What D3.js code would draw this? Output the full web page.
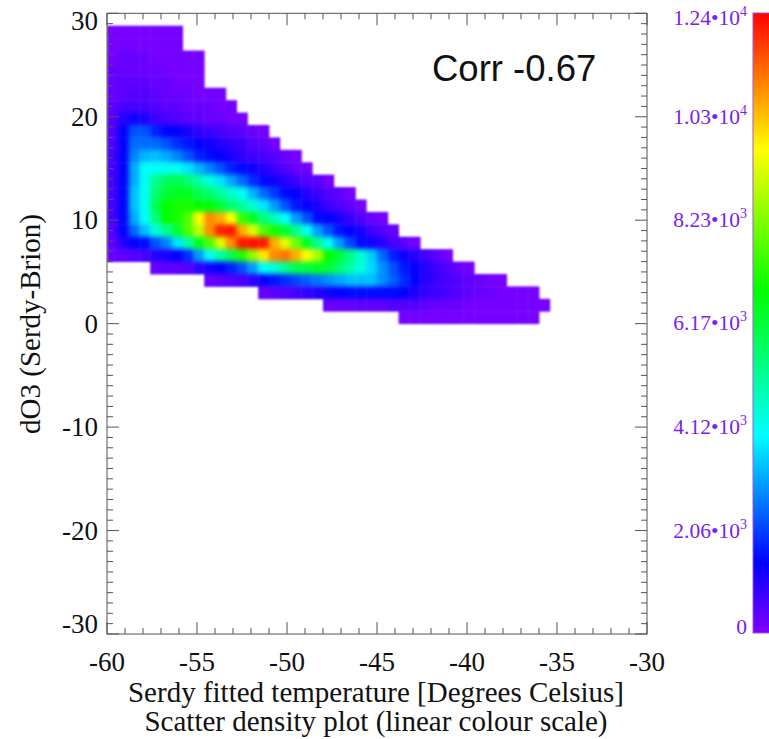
<!DOCTYPE html>
<html><head><meta charset="utf-8">
<style>html,body{margin:0;padding:0;background:#fff;overflow:hidden}svg{display:block}</style>
<script src="https://cdn.jsdelivr.net/npm/d3@7"></script></head><body>
<svg id="c" width="769" height="739"></svg>
<script>
// density as percent of the peak, one array per row from the top bin down
const densityRows = [
[1,1,1,1,1,1,1],
[1,1,1,1,1,1,1],
[1,2,2,2,1,1,1,1,1],
[2,2,2,2,2,1,1,1,1],
[2,3,3,3,2,2,1,1,1],
[2,3,4,4,3,2,2,2,1,1,1],
[3,5,5,5,4,3,3,2,2,2,1,1],
[4,8,10,9,6,5,4,3,3,2,2,1,1],
[4,11,18,18,14,11,11,9,7,6,5,4,3,2,1],
[4,11,20,20,20,18,15,13,11,10,8,7,6,4,3,1],
[5,11,22,26,27,25,22,18,14,12,11,9,7,6,5,4,2,1],
[5,11,25,32,33,33,33,30,26,22,18,14,12,10,8,6,4,2,1],
[5,11,25,33,42,47,48,45,40,35,30,25,20,15,12,10,8,6,4,3,1],
[5,11,27,33,45,50,52,52,48,45,41,37,33,26,20,16,12,11,8,6,4,3,1],
[5,11,27,33,48,55,57,57,55,54,50,45,40,36,30,24,18,13,11,9,6,4,3,1],
[5,11,25,32,44,55,57,62,78,88,85,78,60,52,44,38,32,24,18,12,11,9,6,4,2,1],
[4,11,20,27,35,42,50,62,72,88,97,98,85,75,62,57,50,42,33,24,18,13,11,9,6,4,2],
[3,8,11,12,18,22,30,40,52,62,75,88,98,99,98,85,75,65,52,42,33,24,17,12,10,8,5,3,1],
[2,3,4,5,8,9,11,15,24,33,40,48,58,68,80,88,90,85,78,70,55,50,43,36,28,20,14,10,8,5,3,1],
[2,3,3,4,7,10,11,14,18,24,32,36,42,48,50,52,50,45,40,35,29,23,18,13,11,8,6,4,2,1],
[2,3,4,5,7,11,13,15,17,19,21,23,25,27,27,27,23,19,15,11,8,6,5,4,3,2,1,1],
[2,3,4,5,7,8,10,11,12,12,12,12,12,11,9,7,6,5,4,3,2,2,1,1,1,1],
[2,2,2,3,3,3,4,4,4,3,2,2,2,1,1,1,1,1,1,1,1],
[1,1,1,1,1,1,1,1,1,1,1,1,1]
];
const rowFirstBin = [0,0,0,0,0,0,0,0,0,0,0,0,0,0,0,0,0,0,0,4,9,14,20,27];
const firstRowTop = 28.8;
const binX = 0.6, binY = 1.2;
const xDomain = [-60,-30], yDomain = [-30,30];
const xMajor = [-60,-55,-50,-45,-40,-35,-30];
const yMajor = [-30,-20,-10,0,10,20,30];
const colourStops = [0,11.3,32,55,78,100];
const colourValues = ["#8000ff","#0000ff","#00ffff","#00ff00","#ffff00","#ff0000"];
const barLabels = [["1.24","4"],["1.03","4"],["8.23","3"],["6.17","3"],["4.12","3"],["2.06","3"],["0",""]];
const barLabelValues = [100,83.33,66.67,50,33.33,16.67,0];
const titleX = ["Serdy fitted temperature [Degrees Celsius]","Scatter density plot (linear colour scale)"];
const titleY = "dO3 (Serdy-Brion)";
const note = "Corr -0.67";

const L=107,R=647,T=13.3,B=634;
const x=d3.scaleLinear().domain(xDomain).range([L,R]);
const y=d3.scaleLinear().domain(yDomain).range([B,T]);
const colour=d3.scaleLinear().domain(colourStops).range(colourValues).interpolate(d3.interpolateRgb);
const barY=d3.scaleLinear().domain([0,100]).range([633,13]);
const svg=d3.select("#c");
const serif="'Liberation Serif',serif";
const defs=svg.append("defs");
const f=defs.append("filter").attr("id","soft").attr("filterUnits","userSpaceOnUse")
  .attr("x",L-30).attr("y",T-30).attr("width",R-L+60).attr("height",B-T+60)
  .attr("color-interpolation-filters","sRGB");
f.append("feGaussianBlur").attr("in","SourceGraphic").attr("stdDeviation",2.6).attr("result","wide");
const ct=f.append("feComponentTransfer").attr("in","wide").attr("result","solid");
ct.append("feFuncA").attr("type","linear").attr("slope",40).attr("intercept",0);
f.append("feGaussianBlur").attr("in","SourceAlpha").attr("stdDeviation",0.9).attr("result","mask");
f.append("feComposite").attr("in","solid").attr("in2","mask").attr("operator","in");
defs.append("clipPath").attr("id","plot").append("rect").attr("x",L).attr("y",T).attr("width",R-L).attr("height",B-T);
const grad=defs.append("linearGradient").attr("id","bar").attr("x1",0).attr("x2",0).attr("y1",1).attr("y2",0);
colourStops.forEach((s,i)=>grad.append("stop").attr("offset",s+"%").attr("stop-color",colourValues[i]));

const cells=densityRows.flatMap((r,k)=>r.map((v,i)=>({v,
  x0:xDomain[0]+(rowFirstBin[k]+i)*binX,
  y1:firstRowTop-k*binY})));
svg.append("g").attr("clip-path","url(#plot)").append("g").attr("filter","url(#soft)")
  .selectAll("rect").data(cells).join("rect")
  .attr("x",d=>x(d.x0)).attr("width",d=>x(d.x0+binX)-x(d.x0)+0.4)
  .attr("y",d=>y(d.y1)).attr("height",d=>y(d.y1-binY)-y(d.y1)+0.4)
  .attr("fill",d=>colour(d.v));

const frame="#555";
const g=svg.append("g").attr("stroke",frame).attr("stroke-width",1).attr("fill","none");
g.append("rect").attr("x",L).attr("y",T).attr("width",R-L).attr("height",B-T);
const major=12,minor=6;
d3.range(-60,-29).forEach(v=>{const m=(v%5===0),l=m?major:minor;
  g.append("line").attr("x1",x(v)).attr("x2",x(v)).attr("y1",B).attr("y2",B-l);
  g.append("line").attr("x1",x(v)).attr("x2",x(v)).attr("y1",T).attr("y2",T+l);});
d3.range(-30,31).forEach(v=>{const m=(v%10===0),l=m?major:minor;
  g.append("line").attr("y1",y(v)).attr("y2",y(v)).attr("x1",L).attr("x2",L+l);
  g.append("line").attr("y1",y(v)).attr("y2",y(v)).attr("x1",R).attr("x2",R-l);});

svg.append("g").selectAll("text").data(xMajor).join("text")
  .attr("x",d=>x(d)).attr("y",671).attr("text-anchor","middle")
  .attr("font-family",serif).attr("font-size",27).attr("fill","#111").text(d=>d);
svg.append("g").selectAll("text").data(yMajor).join("text")
  .attr("x",98).attr("y",d=>y(d)+9+(d===30?8:d===-30?-10:0)).attr("text-anchor","end")
  .attr("font-family",serif).attr("font-size",27).attr("fill","#111").text(d=>d);
svg.append("g").selectAll("text").data(titleX).join("text")
  .attr("x",376).attr("y",(d,i)=>702+i*29).attr("text-anchor","middle")
  .attr("font-family",serif).attr("font-size",29).attr("fill","#111").text(d=>d);
svg.append("text").attr("transform","translate(40,324) rotate(-90)").attr("text-anchor","middle")
  .attr("font-family",serif).attr("font-size",29).attr("fill","#111").text(titleY);
svg.append("text").attr("x",432).attr("y",81).attr("font-family","'Liberation Sans',sans-serif")
  .attr("font-size",36.5).attr("fill","#111").text(note);

svg.append("rect").attr("x",753).attr("y",barY(100)).attr("width",17).attr("height",barY(0)-barY(100))
  .attr("fill","url(#bar)").attr("stroke","#9a5ccf").attr("stroke-width",1);
const labelDrop=[12,8,7,7,8,8,1];
const lab=svg.append("g").attr("font-family",serif).attr("fill","#7a22ee");
barLabels.forEach((d,i)=>{
  const t=lab.append("text").attr("x",747).attr("text-anchor","end").attr("font-size",21.5)
    .attr("y",barY(barLabelValues[i])+labelDrop[i]);
  t.append("tspan").text(d[1]?d[0]+"\u2022"+"10":d[0]);
  if(d[1]) t.append("tspan").attr("font-size",14).attr("dy",-9).text(d[1]);
});
</script></body></html>
